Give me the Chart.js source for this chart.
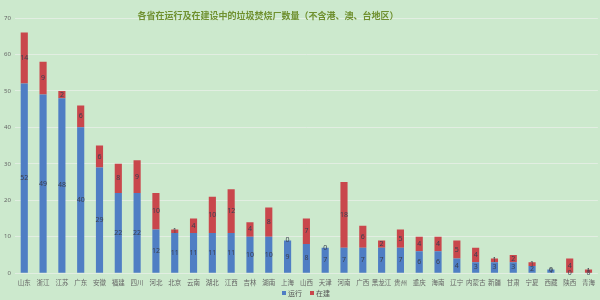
<!DOCTYPE html>
<html>
<head>
<meta charset="utf-8">
<script src="https://cdn.jsdelivr.net/npm/chart.js@4"></script>
<style>
html,body{margin:0;padding:0;background:#cce9cd;}
#wrap{width:600px;height:300px;position:relative;}
</style>
</head>
<body>
<div id="wrap"><canvas id="c" width="600" height="300"></canvas></div>
<script>
const categories = ["山东","浙江","江苏","广东","安徽","福建","四川","河北","北京","云南","湖北","江西","吉林","湖南","上海","山西","天津","河南","广西","黑龙江","贵州","重庆","海南","辽宁","内蒙古","新疆","甘肃","宁夏","西藏","陕西","青海"];
const running = [52,49,48,40,29,22,22,12,11,11,11,11,10,10,9,8,7,7,7,7,7,6,6,4,3,3,3,2,1,0,0];
const building = [14,9,2,6,6,8,9,10,1,4,10,12,4,8,0,7,0,18,6,2,5,4,4,5,4,1,2,1,0,4,1];
const yTicks = [0,10,20,30,40,50,60,70];
const titleText = "各省在运行及在建设中的垃圾焚烧厂数量（不含港、澳、台地区）";

const labelPlugin = {
  id: 'segLabels',
  afterDatasetsDraw(chart) {
    const ctx = chart.ctx;
    ctx.save();
    ctx.font = '7px "Noto Sans", sans-serif';
    ctx.fillStyle = '#3a4050';
    ctx.textAlign = 'center';
    ctx.textBaseline = 'middle';
    chart.data.datasets.forEach((ds, di) => {
      const meta = chart.getDatasetMeta(di);
      meta.data.forEach((el, i) => {
        const v = ds.data[i];
        const cy = (el.y + el.base) / 2;
        ctx.fillText(String(v), el.x, cy);
      });
    });
    ctx.restore();
  }
};

const titleLegendPlugin = {
  id: 'customTitleLegend',
  afterDraw(chart) {
    const ctx = chart.ctx;
    ctx.save();
    ctx.font = 'bold 9px "Noto Sans CJK SC", sans-serif';
    ctx.fillStyle = '#6f902f';
    ctx.textAlign = 'center';
    ctx.textBaseline = 'middle';
    ctx.fillText(titleText, 268, 16);
    // legend
    ctx.font = '7px "Noto Sans CJK SC", sans-serif';
    ctx.textAlign = 'left';
    const items = chart.data.datasets.map(d => ({t: d.label, c: d.backgroundColor}));
    const gap = 8, box = 4;
    let widths = items.map(it => box + 2 + ctx.measureText(it.t).width);
    let total = widths.reduce((a, b) => a + b, 0) + gap * (items.length - 1);
    let x = 306 - total / 2;
    const y = 293;
    items.forEach((it, i) => {
      ctx.fillStyle = it.c;
      ctx.fillRect(x, y - box / 2, box, box);
      ctx.fillStyle = '#555';
      ctx.fillText(it.t, x + box + 2, y);
      x += widths[i] + gap;
    });
    ctx.restore();
  }
};

new Chart(document.getElementById('c'), {
  type: 'bar',
  data: {
    labels: categories,
    datasets: [
      {label: '运行', data: running, backgroundColor: '#4f7ec4', borderWidth: 0},
      {label: '在建', data: building, backgroundColor: '#c9474c', borderWidth: 0}
    ]
  },
  options: {
    responsive: false,
    animation: false,
    devicePixelRatio: 1,
    layout: {padding: {top: 18, right: 0, left: 0, bottom: 9}},
    datasets: {bar: {categoryPercentage: 1, barPercentage: 0.38}},
    plugins: {
      title: {display: false},
      tooltip: {enabled: false},
      legend: {display: false}
    },
    scales: {
      x: {
        stacked: true,
        grid: {display: false, drawTicks: false},
        border: {display: false},
        ticks: {color: '#666', font: {size: 6.5, family: '"Noto Sans CJK SC", sans-serif'}, maxRotation: 0, autoSkip: false, padding: 5}
      },
      y: {
        stacked: true,
        min: 0, max: 70,
        afterBuildTicks(axis) { axis.ticks = yTicks.map(v => ({value: v})); },
        grid: {color: 'rgba(235,240,235,0.7)', drawTicks: false},
        border: {display: false},
        ticks: {color: '#666', font: {size: 6, family: '"Noto Sans", sans-serif'}, padding: 4}
      }
    }
  },
  plugins: [labelPlugin, titleLegendPlugin]
});
</script>
</body>
</html>
